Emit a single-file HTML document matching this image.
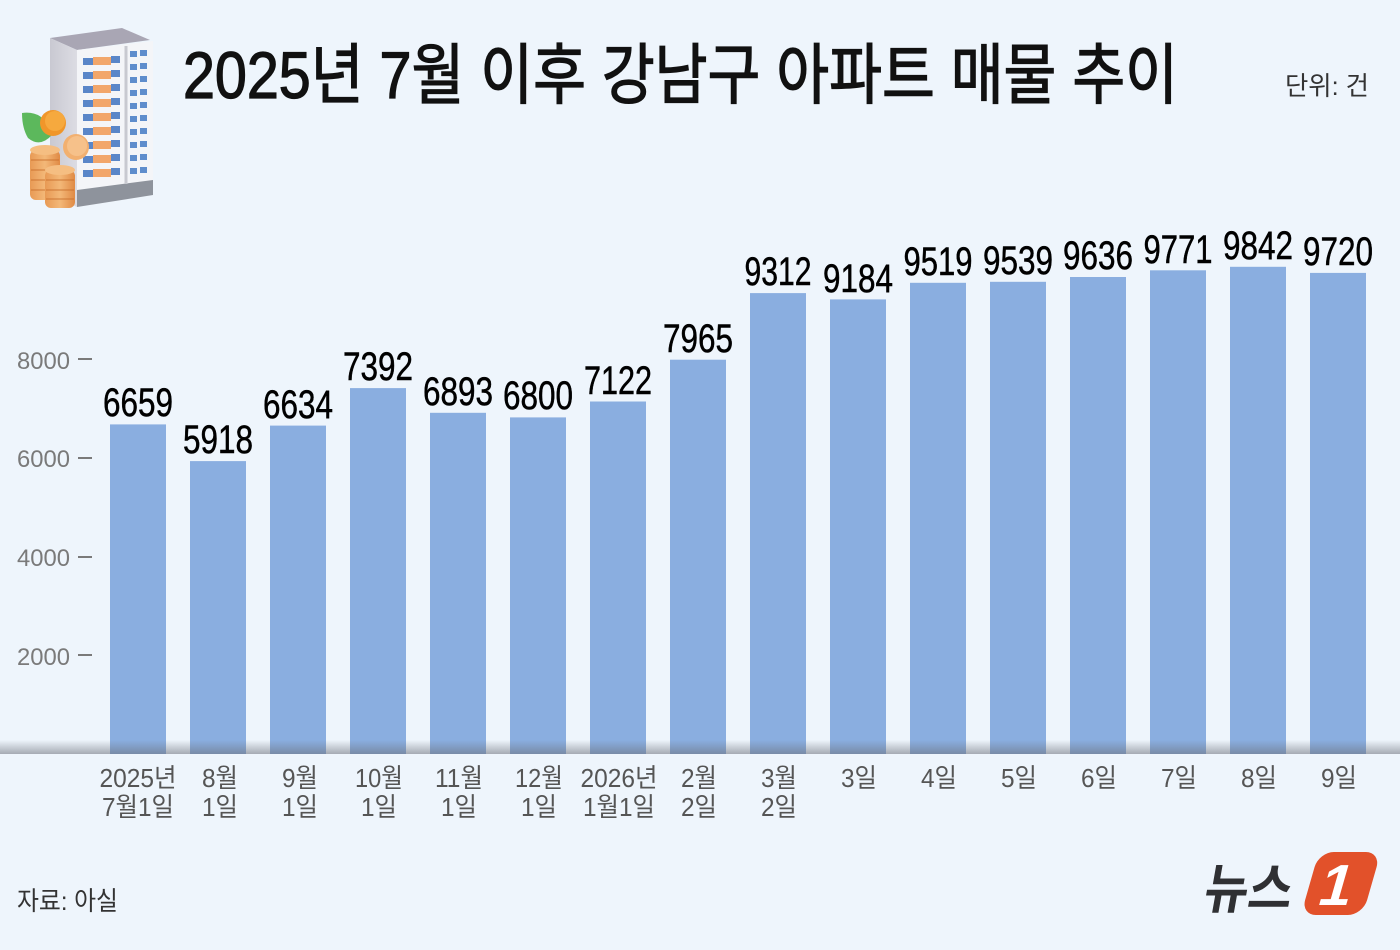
<!DOCTYPE html>
<html><head><meta charset="utf-8"><style>
html,body{margin:0;padding:0;background:#eef5fc;}
svg{display:block;}
text{font-family:"Liberation Sans","Noto Sans CJK KR",sans-serif;}
</style></head><body>
<svg width="1400" height="950" viewBox="0 0 1400 950" xmlns="http://www.w3.org/2000/svg">
<defs>
<linearGradient id="shade" x1="0" y1="0" x2="0" y2="1">
<stop offset="0" stop-color="#6a6e78" stop-opacity="0"/>
<stop offset="1" stop-color="#6a6e78" stop-opacity="0.55"/>
</linearGradient>
<linearGradient id="leftface" x1="0" y1="0" x2="1" y2="0">
<stop offset="0" stop-color="#c9c9d2"/><stop offset="1" stop-color="#dcdce3"/>
</linearGradient>
<linearGradient id="coin" x1="0" y1="0" x2="1" y2="0">
<stop offset="0" stop-color="#e89a55"/><stop offset="0.5" stop-color="#f3b878"/><stop offset="1" stop-color="#e08a45"/>
</linearGradient>
</defs>
<rect width="1400" height="950" fill="#eef5fc"/>

<!-- Icon -->
<g>
<polygon points="50,38 122,28 150,40 77,50" fill="#a9a6b4"/>
<polygon points="50,38 77,50 77,207 50,195" fill="url(#leftface)"/>
<polygon points="77,50 153,41 153,195 77,207" fill="#f4f5f8"/>
<polygon points="77,190 153,180 153,195 77,207" fill="#8e939c"/>
<line x1="126" y1="46" x2="126" y2="184" stroke="#c8c9d0" stroke-width="3"/>
<g>
<rect x="83" y="58" width="10" height="7" fill="#5a86c8"/><rect x="93" y="57" width="18" height="8" fill="#f2a66a"/><rect x="111" y="56" width="9" height="7" fill="#5a86c8"/>
<rect x="83" y="72" width="10" height="7" fill="#5a86c8"/><rect x="93" y="71" width="18" height="8" fill="#f2a66a"/><rect x="111" y="70" width="9" height="7" fill="#5a86c8"/>
<rect x="83" y="86" width="10" height="7" fill="#5a86c8"/><rect x="93" y="85" width="18" height="8" fill="#f2a66a"/><rect x="111" y="84" width="9" height="7" fill="#5a86c8"/>
<rect x="83" y="100" width="10" height="7" fill="#5a86c8"/><rect x="93" y="99" width="18" height="8" fill="#f2a66a"/><rect x="111" y="98" width="9" height="7" fill="#5a86c8"/>
<rect x="83" y="114" width="10" height="7" fill="#5a86c8"/><rect x="93" y="113" width="18" height="8" fill="#f2a66a"/><rect x="111" y="112" width="9" height="7" fill="#5a86c8"/>
<rect x="83" y="128" width="10" height="7" fill="#5a86c8"/><rect x="93" y="127" width="18" height="8" fill="#f2a66a"/><rect x="111" y="126" width="9" height="7" fill="#5a86c8"/>
<rect x="83" y="142" width="10" height="7" fill="#5a86c8"/><rect x="93" y="141" width="18" height="8" fill="#f2a66a"/><rect x="111" y="140" width="9" height="7" fill="#5a86c8"/>
<rect x="83" y="156" width="10" height="7" fill="#5a86c8"/><rect x="93" y="155" width="18" height="8" fill="#f2a66a"/><rect x="111" y="154" width="9" height="7" fill="#5a86c8"/>
<rect x="83" y="170" width="10" height="7" fill="#5a86c8"/><rect x="93" y="169" width="18" height="8" fill="#f2a66a"/><rect x="111" y="168" width="9" height="7" fill="#5a86c8"/>
</g>
<g fill="#5f8dcc">
<rect x="130" y="51" width="7" height="6"/><rect x="140" y="50" width="7" height="6"/>
<rect x="130" y="64" width="7" height="6"/><rect x="140" y="63" width="7" height="6"/>
<rect x="130" y="77" width="7" height="6"/><rect x="140" y="76" width="7" height="6"/>
<rect x="130" y="90" width="7" height="6"/><rect x="140" y="89" width="7" height="6"/>
<rect x="130" y="103" width="7" height="6"/><rect x="140" y="102" width="7" height="6"/>
<rect x="130" y="116" width="7" height="6"/><rect x="140" y="115" width="7" height="6"/>
<rect x="130" y="129" width="7" height="6"/><rect x="140" y="128" width="7" height="6"/>
<rect x="130" y="142" width="7" height="6"/><rect x="140" y="141" width="7" height="6"/>
<rect x="130" y="155" width="7" height="6"/><rect x="140" y="154" width="7" height="6"/>
<rect x="130" y="168" width="7" height="6"/><rect x="140" y="167" width="7" height="6"/>
</g>
<path d="M22,113 Q45,110 52,135 Q40,148 28,138 Q22,128 22,113Z" fill="#5cb85c"/>
<circle cx="53" cy="123" r="13" fill="#f0962a"/><circle cx="55" cy="121" r="10" fill="#f6a93e"/>
<circle cx="76" cy="147" r="13" fill="#f2b070"/><circle cx="77" cy="146" r="10" fill="#f6c18a"/>
<rect x="30" y="150" width="30" height="50" rx="6" fill="url(#coin)"/>
<g stroke="#c9702e" stroke-width="1.2" opacity="0.7"><line x1="31" y1="160" x2="59" y2="160"/><line x1="31" y1="170" x2="59" y2="170"/><line x1="31" y1="180" x2="59" y2="180"/><line x1="31" y1="190" x2="59" y2="190"/></g>
<ellipse cx="45" cy="150" rx="15" ry="5" fill="#f5be82"/>
<rect x="45" y="170" width="30" height="38" rx="6" fill="url(#coin)"/>
<g stroke="#c9702e" stroke-width="1.2" opacity="0.7"><line x1="46" y1="180" x2="74" y2="180"/><line x1="46" y1="190" x2="74" y2="190"/><line x1="46" y1="199" x2="74" y2="199"/></g>
<ellipse cx="60" cy="170" rx="15" ry="5" fill="#f5be82"/>
</g>

<!-- Title -->
<text x="183" y="98" font-size="66" font-weight="400" fill="#111" stroke="#111" stroke-width="1.3" textLength="995" lengthAdjust="spacingAndGlyphs">2025년 7월 이후 강남구 아파트 매물 추이</text>
<text x="1285" y="95" font-size="26" fill="#333" textLength="84" lengthAdjust="spacingAndGlyphs">단위: 건</text>

<!-- Y axis -->
<g font-size="24" fill="#7a7a7a">
<text x="17" y="369" textLength="53" lengthAdjust="spacingAndGlyphs">8000</text>
<text x="17" y="467" textLength="53" lengthAdjust="spacingAndGlyphs">6000</text>
<text x="17" y="566" textLength="53" lengthAdjust="spacingAndGlyphs">4000</text>
<text x="17" y="665" textLength="53" lengthAdjust="spacingAndGlyphs">2000</text>
</g>
<g stroke="#7a7a7a" stroke-width="2">
<line x1="78" y1="359" x2="92" y2="359"/>
<line x1="78" y1="458" x2="92" y2="458"/>
<line x1="78" y1="557" x2="92" y2="557"/>
<line x1="78" y1="655" x2="92" y2="655"/>
</g>

<!-- Bars -->
<g fill="#8aaee0">
<rect x="110" y="424.4" width="56" height="329.6"/>
<rect x="190" y="461.1" width="56" height="292.9"/>
<rect x="270" y="425.6" width="56" height="328.4"/>
<rect x="350" y="388.1" width="56" height="365.9"/>
<rect x="430" y="412.8" width="56" height="341.2"/>
<rect x="510" y="417.4" width="56" height="336.6"/>
<rect x="590" y="401.5" width="56" height="352.5"/>
<rect x="670" y="359.7" width="56" height="394.3"/>
<rect x="750" y="293.1" width="56" height="460.9"/>
<rect x="830" y="299.4" width="56" height="454.6"/>
<rect x="910" y="282.8" width="56" height="471.2"/>
<rect x="990" y="281.8" width="56" height="472.2"/>
<rect x="1070" y="277.0" width="56" height="477.0"/>
<rect x="1150" y="270.3" width="56" height="483.7"/>
<rect x="1230" y="266.8" width="56" height="487.2"/>
<rect x="1310" y="272.9" width="56" height="481.1"/>
</g>
<rect x="0" y="740" width="1400" height="14" fill="url(#shade)"/>

<!-- Value labels -->
<g font-size="40" fill="#000" stroke="#000" stroke-width="0.5" text-anchor="middle">
<text x="138" y="416" textLength="70" lengthAdjust="spacingAndGlyphs">6659</text>
<text x="218" y="453" textLength="70" lengthAdjust="spacingAndGlyphs">5918</text>
<text x="298" y="418" textLength="70" lengthAdjust="spacingAndGlyphs">6634</text>
<text x="378" y="380" textLength="70" lengthAdjust="spacingAndGlyphs">7392</text>
<text x="458" y="405" textLength="70" lengthAdjust="spacingAndGlyphs">6893</text>
<text x="538" y="409" textLength="70" lengthAdjust="spacingAndGlyphs">6800</text>
<text x="618" y="394" textLength="68" lengthAdjust="spacingAndGlyphs">7122</text>
<text x="698" y="352" textLength="70" lengthAdjust="spacingAndGlyphs">7965</text>
<text x="778" y="285" textLength="67" lengthAdjust="spacingAndGlyphs">9312</text>
<text x="858" y="292" textLength="70" lengthAdjust="spacingAndGlyphs">9184</text>
<text x="938" y="275" textLength="69" lengthAdjust="spacingAndGlyphs">9519</text>
<text x="1018" y="274" textLength="70" lengthAdjust="spacingAndGlyphs">9539</text>
<text x="1098" y="269" textLength="70" lengthAdjust="spacingAndGlyphs">9636</text>
<text x="1178" y="263" textLength="69" lengthAdjust="spacingAndGlyphs">9771</text>
<text x="1258" y="259" textLength="70" lengthAdjust="spacingAndGlyphs">9842</text>
<text x="1338" y="265" textLength="70" lengthAdjust="spacingAndGlyphs">9720</text>
</g>

<!-- X labels -->
<g font-size="26" fill="#555" text-anchor="middle">
<text x="138" y="787" textLength="77" lengthAdjust="spacingAndGlyphs">2025년</text>
<text x="138" y="816" textLength="72" lengthAdjust="spacingAndGlyphs">7월1일</text>
<text x="220" y="787" textLength="36" lengthAdjust="spacingAndGlyphs">8월</text>
<text x="220" y="816" textLength="36" lengthAdjust="spacingAndGlyphs">1일</text>
<text x="300" y="787" textLength="36" lengthAdjust="spacingAndGlyphs">9월</text>
<text x="300" y="816" textLength="36" lengthAdjust="spacingAndGlyphs">1일</text>
<text x="379" y="787" textLength="48" lengthAdjust="spacingAndGlyphs">10월</text>
<text x="379" y="816" textLength="36" lengthAdjust="spacingAndGlyphs">1일</text>
<text x="459" y="787" textLength="48" lengthAdjust="spacingAndGlyphs">11월</text>
<text x="459" y="816" textLength="36" lengthAdjust="spacingAndGlyphs">1일</text>
<text x="539" y="787" textLength="48" lengthAdjust="spacingAndGlyphs">12월</text>
<text x="539" y="816" textLength="36" lengthAdjust="spacingAndGlyphs">1일</text>
<text x="619" y="787" textLength="77" lengthAdjust="spacingAndGlyphs">2026년</text>
<text x="619" y="816" textLength="72" lengthAdjust="spacingAndGlyphs">1월1일</text>
<text x="699" y="787" textLength="36" lengthAdjust="spacingAndGlyphs">2월</text>
<text x="699" y="816" textLength="36" lengthAdjust="spacingAndGlyphs">2일</text>
<text x="779" y="787" textLength="36" lengthAdjust="spacingAndGlyphs">3월</text>
<text x="779" y="816" textLength="36" lengthAdjust="spacingAndGlyphs">2일</text>
<text x="859" y="787" textLength="36" lengthAdjust="spacingAndGlyphs">3일</text>
<text x="939" y="787" textLength="36" lengthAdjust="spacingAndGlyphs">4일</text>
<text x="1019" y="787" textLength="36" lengthAdjust="spacingAndGlyphs">5일</text>
<text x="1099" y="787" textLength="36" lengthAdjust="spacingAndGlyphs">6일</text>
<text x="1179" y="787" textLength="36" lengthAdjust="spacingAndGlyphs">7일</text>
<text x="1259" y="787" textLength="36" lengthAdjust="spacingAndGlyphs">8일</text>
<text x="1339" y="787" textLength="36" lengthAdjust="spacingAndGlyphs">9일</text>
</g>

<!-- Source -->
<text x="17" y="910" font-size="26" fill="#333" textLength="101" lengthAdjust="spacingAndGlyphs">자료: 아실</text>

<!-- Logo -->
<text x="1202" y="908" font-size="54" font-weight="700" fill="#2f3033" textLength="88" lengthAdjust="spacingAndGlyphs" transform="skewX(-10) translate(160,0)">뉴스</text>
<g transform="translate(1340,883) skewX(-16)">
<rect x="-30" y="-31" width="62" height="63" rx="15" fill="#e2512a"/>
<text x="-2" y="22" font-size="58" font-weight="700" fill="#ffffff" text-anchor="middle">1</text>
</g>
</svg>
</body></html>
